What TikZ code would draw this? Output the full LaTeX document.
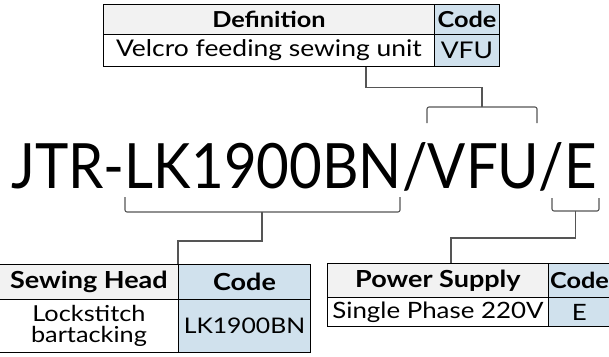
\documentclass[tikz,border=0pt]{standalone}
\usepackage{fontspec}
\setmainfont{Lato}[FakeStretch=1.15]
\usepackage{graphicx}
\definecolor{hdrgray}{HTML}{F2F2F2}
\definecolor{codeblue}{HTML}{D0E1ED}
\definecolor{linkgray}{HTML}{555555}
\tikzset{
  cell/.style={draw=black, line width=0.9pt, anchor=north west, inner sep=0pt, align=center},
  tophdr/.style={cell, font=\fontsize{22}{20}\selectfont\bfseries},
  topbody/.style={cell, font=\fontsize{23}{20}\selectfont},
  lowhdr/.style={cell, font=\fontsize{23.5}{20}\selectfont\bfseries},
  lowbody/.style={cell, font=\fontsize{22.5}{20}\selectfont},
  gray/.style={fill=hdrgray},
  blue/.style={fill=codeblue},
  white/.style={fill=white},
  link/.style={draw=linkgray, line width=1.1pt},
  brace/.style={draw=linkgray, line width=1.1pt, rounded corners=2pt}
}
\begin{document}
\begin{tikzpicture}[x=1pt,y=-1pt]
\useasboundingbox (0,0) rectangle (609,356);
% top table
\node[tophdr, gray, minimum width=331, minimum height=30] (defh) at (103,4) {Definition};
\node[tophdr, blue, minimum width=65, minimum height=30] (defc) at (434,4) {Code};
\node[topbody, white, minimum width=331, minimum height=32] (defb) at (103,34) {Velcro feeding sewing unit};
\node[topbody, blue, minimum width=65, minimum height=32] (defv) at (434,34) {VFU};
% model string
\node[inner sep=0pt, anchor=base] (model) at (304,188) {\resizebox{585pt}{46pt}{\addfontfeatures{FakeStretch=1}JTR-LK1900BN/VFU/E}};
% brackets
\coordinate (b1l) at (427,123); \coordinate (b1r) at (537,123); \coordinate (b1c) at (482,107);
\coordinate (b2l) at (125,197); \coordinate (b2r) at (400,197); \coordinate (b2c) at (262,212);
\coordinate (b3l) at (552,198); \coordinate (b3r) at (599,198); \coordinate (b3c) at (575.5,211);
\draw[brace] (b1l) |- (b1c) -| (b1r);
\draw[brace] (b2l) |- (b2c) -| (b2r);
\draw[brace] (b3l) |- (b3c) -| (b3r);
% left table
\node[lowhdr, gray, minimum width=179, minimum height=35] (headh) at (-1,264) {Sewing Head};
\node[lowhdr, blue, minimum width=132, minimum height=35] (headc) at (178,264) {Code};
\node[lowbody, white, minimum width=179, minimum height=53, font=\fontsize{22}{20.5}\selectfont] (headb) at (-1,299) {Lockstitch\\bartacking};
\node[lowbody, blue, minimum width=132, minimum height=53, font=\fontsize{21.5}{20}\selectfont] (headv) at (178,299) {LK1900BN};
% right table
\node[lowhdr, gray, minimum width=221, minimum height=34] (powh) at (327,263) {Power Supply};
\node[lowhdr, blue, minimum width=62, minimum height=34, font=\fontsize{22}{20}\selectfont\bfseries] (powc) at (548,263) {Code};
\node[lowbody, white, minimum width=221, minimum height=29] (powb) at (327,297) {Single Phase 220V};
\node[lowbody, blue, minimum width=62, minimum height=29] (powv) at (548,297) {E};
% connectors
\draw[link] (defb.south west) ++(263,0) coordinate (t1) -- ++(0,21) -| (b1c);
\draw[link] (b2c) -- ++(0,29) -| (headc.north west);
\draw[link] (b3c) -- ++(0,27) -| ([xshift=124pt]powh.north west);
\end{tikzpicture}
\end{document}
